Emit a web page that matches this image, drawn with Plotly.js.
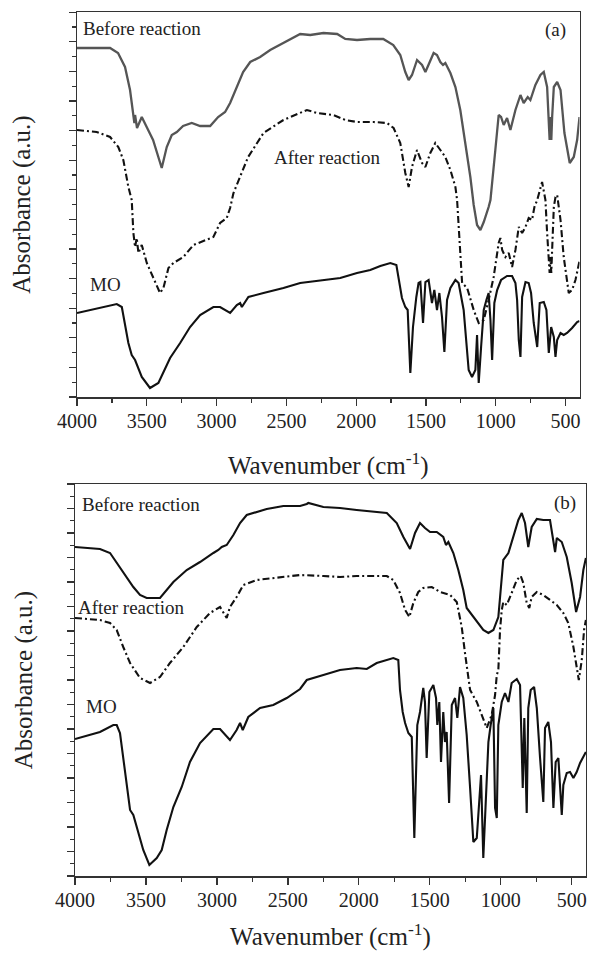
<!DOCTYPE html>
<html><head><meta charset="utf-8">
<script src="https://cdn.plot.ly/plotly-3.0.1.min.js"></script>
<style>html,body{margin:0;padding:0;background:#fff}#chart{width:589px;height:958px}</style>
</head><body><div id="chart"></div>
<script>
// ---------- Panel (a) ----------
const aBeforeWn = [4000,3763,3706,3656,3620,3598,3589,3584,3570,3536,3500,3455,3393,3357,3321,3285,3240,3178,3118,3046,2989,2939,2903,2855,2810,2759,2688,2616,2523,2451,2401,2329,2234,2136,2078,1994,1899,1806,1734,1684,1648,1624,1600,1564,1528,1504,1481,1445,1421,1397,1378,1361,1325,1289,1254,1218,1182,1158,1134,1110,1086,1051,1038,1003,979,962,943,919,895,859,823,800,771,752,716,680,656,632,620,614,608,602,596,584,560,536,508,470,441,417,400];
const aBeforeAbs = [3.49,3.49,3.44,3.30,3.07,2.82,2.74,2.82,2.69,2.80,2.70,2.57,2.29,2.50,2.62,2.65,2.71,2.74,2.71,2.71,2.80,2.85,2.94,3.10,3.25,3.35,3.40,3.47,3.54,3.60,3.63,3.62,3.64,3.63,3.58,3.57,3.58,3.58,3.52,3.42,3.25,3.17,3.22,3.37,3.32,3.25,3.32,3.44,3.42,3.35,3.32,3.34,3.24,3.10,2.87,2.54,2.20,1.92,1.72,1.67,1.75,1.90,1.97,2.47,2.82,2.80,2.72,2.79,2.67,2.87,3.02,2.94,3.00,2.97,3.12,3.22,3.25,3.10,2.80,2.57,2.80,2.57,2.80,3.10,3.15,3.07,2.64,2.34,2.40,2.57,2.80];

const aAfterWn = [4000,3859,3763,3704,3668,3632,3608,3596,3584,3572,3560,3536,3500,3453,3405,3381,3345,3309,3238,3166,3070,3023,2975,2927,2903,2879,2774,2664,2521,2401,2353,2281,2162,2078,1994,1875,1779,1732,1684,1648,1624,1600,1564,1528,1504,1469,1433,1397,1361,1325,1289,1277,1254,1241,1205,1158,1122,1086,1051,1015,979,967,954,931,907,883,859,835,811,787,764,740,723,703,668,644,632,620,614,608,602,596,584,572,560,536,513,477,453,429,400];
const aAfterAbs = [2.67,2.65,2.60,2.50,2.37,2.10,1.97,1.64,1.50,1.59,1.44,1.52,1.34,1.20,1.04,1.09,1.29,1.34,1.40,1.52,1.57,1.60,1.74,1.79,1.89,2.04,2.40,2.64,2.77,2.84,2.87,2.84,2.82,2.77,2.75,2.75,2.74,2.69,2.54,2.24,2.10,2.30,2.47,2.34,2.30,2.44,2.54,2.47,2.40,2.27,2.10,1.97,1.47,1.14,1.09,0.87,0.74,0.77,0.97,1.20,1.54,1.59,1.47,1.40,1.44,1.30,1.47,1.70,1.64,1.70,1.79,1.77,1.90,1.97,2.15,1.97,1.64,1.40,1.24,1.40,1.24,1.47,1.90,2.00,2.02,1.77,1.40,1.04,1.07,1.17,1.36];

const aMOWn = [4000,3835,3715,3679,3656,3632,3608,3584,3536,3477,3417,3381,3333,3261,3190,3118,3023,2975,2903,2855,2831,2819,2772,2664,2521,2401,2234,2114,1994,1899,1827,1755,1712,1696,1672,1648,1631,1612,1593,1569,1553,1540,1521,1504,1481,1457,1440,1421,1404,1385,1368,1349,1325,1289,1266,1230,1194,1170,1146,1134,1122,1105,1086,1067,1051,1038,1026,1010,990,962,919,883,859,847,835,823,811,787,764,747,728,703,685,656,637,620,603,584,572,560,536,513,489,453,417,400];
const aMOAbs = [0.84,0.89,0.93,0.90,0.74,0.54,0.42,0.37,0.20,0.09,0.14,0.24,0.39,0.54,0.70,0.82,0.90,0.90,0.84,0.92,0.94,0.90,1.00,1.04,1.09,1.14,1.17,1.19,1.24,1.27,1.31,1.34,1.32,1.17,0.99,0.90,0.87,0.24,0.70,1.00,1.14,1.15,0.74,1.15,1.17,0.94,1.07,0.87,1.04,0.80,0.45,0.97,1.09,1.17,1.14,0.87,0.27,0.20,0.27,0.62,0.14,0.50,0.87,0.97,1.04,0.77,0.37,0.94,1.07,1.17,1.21,1.21,1.14,0.97,0.57,0.40,1.00,1.15,1.14,1.04,0.74,0.50,0.94,0.95,0.87,0.44,0.70,0.60,0.40,0.57,0.64,0.62,0.64,0.69,0.75,0.76];

// ---------- Panel (b) ----------
const bBeforeWn = [4000,3824,3753,3683,3636,3589,3542,3495,3401,3354,3307,3213,3119,3025,2990,2966,2931,2884,2837,2790,2720,2649,2532,2414,2367,2356,2250,2133,2015,1898,1803,1733,1686,1639,1604,1569,1534,1498,1451,1405,1386,1369,1334,1299,1264,1240,1204,1169,1123,1087,1052,1017,982,946,911,876,852,829,806,782,746,700,653,629,617,605,570,535,500,469,441,418,400];
const bBeforeAbs = [3.29,3.27,3.23,3.09,2.99,2.89,2.81,2.78,2.78,2.86,2.94,3.06,3.14,3.23,3.26,3.29,3.31,3.41,3.53,3.61,3.64,3.67,3.70,3.70,3.72,3.73,3.69,3.68,3.66,3.64,3.63,3.53,3.39,3.27,3.43,3.53,3.48,3.44,3.44,3.39,3.31,3.34,3.23,3.06,2.86,2.68,2.61,2.54,2.46,2.43,2.46,2.59,3.16,3.23,3.39,3.56,3.63,3.53,3.29,3.49,3.57,3.56,3.56,3.36,3.24,3.38,3.34,3.19,2.93,2.64,2.79,3.06,3.18];

const bAfterWn = [4000,3824,3753,3706,3660,3612,3542,3471,3401,3331,3237,3142,3049,2978,2931,2908,2861,2814,2720,2579,2414,2250,2133,2015,1898,1803,1757,1710,1674,1644,1616,1581,1546,1486,1428,1357,1310,1275,1252,1228,1216,1169,1099,1064,1040,1028,1017,1005,993,982,958,923,887,859,841,817,799,782,746,700,653,605,559,524,488,465,450,429,413,400];
const bAfterAbs = [2.58,2.56,2.53,2.46,2.29,2.13,1.98,1.93,1.99,2.13,2.29,2.49,2.63,2.69,2.58,2.69,2.79,2.91,2.96,2.98,3.01,3.00,2.99,3.00,3.00,3.00,2.96,2.83,2.66,2.59,2.73,2.84,2.88,2.89,2.84,2.81,2.74,2.49,2.23,1.99,1.86,1.74,1.48,1.61,1.81,2.01,2.06,2.46,2.66,2.74,2.71,2.83,2.96,3.00,2.93,2.73,2.68,2.79,2.84,2.81,2.76,2.71,2.63,2.53,2.29,2.06,1.96,2.16,2.46,2.56];

const bMOWn = [4000,3824,3730,3706,3683,3660,3636,3612,3589,3565,3519,3476,3424,3389,3354,3307,3248,3190,3119,3025,2978,2908,2861,2837,2818,2779,2696,2603,2508,2414,2367,2250,2133,2015,1944,1874,1803,1757,1722,1710,1691,1674,1651,1627,1609,1588,1569,1546,1534,1522,1503,1475,1456,1447,1433,1421,1405,1393,1381,1364,1345,1322,1306,1287,1264,1240,1216,1193,1169,1153,1139,1123,1104,1087,1071,1052,1040,1028,1017,993,970,946,923,887,864,845,834,817,806,789,765,746,723,700,688,665,646,629,613,594,570,559,535,512,488,465,441,400];
const bMOAbs = [1.37,1.44,1.51,1.51,1.43,1.19,0.89,0.66,0.61,0.49,0.26,0.11,0.18,0.26,0.46,0.69,0.89,1.14,1.33,1.47,1.47,1.36,1.46,1.53,1.46,1.59,1.68,1.71,1.78,1.87,1.96,2.01,2.06,2.08,2.07,2.13,2.16,2.18,2.16,1.86,1.64,1.53,1.43,1.39,0.38,1.51,1.64,1.88,1.74,1.18,1.84,1.91,1.78,1.51,1.74,1.14,1.64,1.34,1.44,0.73,1.71,1.78,1.58,1.89,1.78,1.41,0.88,0.34,0.38,0.74,1.01,0.18,0.84,1.34,1.51,1.68,0.68,0.58,1.51,1.74,1.83,1.74,1.93,1.97,1.91,0.88,1.58,0.63,1.68,1.86,1.89,1.68,1.18,0.74,1.48,1.54,1.34,0.68,1.14,1.18,0.61,0.91,1.03,1.04,0.98,1.04,1.13,1.24];

const xTickVals = [4000,3500,3000,2500,2000,1500,1000,500];
const xMinorVals = [3750,3250,2750,2250,1750,1250,750];
const seriesLabels = ['Before reaction','After reaction','MO'];

const W = 589, H = 958;
const FONT = '"Liberation Serif", "Times New Roman", serif';
const solidBlack = {color:'#111', width:2.1};
const greyLine = {color:'#555', width:2.3};
const dashDot = {color:'#111', width:2.1, dash:'7px,3px,2px,3px'};

const traces = [
  {x:aBeforeWn, y:aBeforeAbs, xaxis:'x', yaxis:'y', mode:'lines', line:greyLine, name:seriesLabels[0]},
  {x:aAfterWn, y:aAfterAbs, xaxis:'x', yaxis:'y', mode:'lines', line:dashDot, name:seriesLabels[1]},
  {x:aMOWn, y:aMOAbs, xaxis:'x', yaxis:'y', mode:'lines', line:solidBlack, name:seriesLabels[2]},
  {x:bBeforeWn, y:bBeforeAbs, xaxis:'x2', yaxis:'y2', mode:'lines', line:solidBlack, name:seriesLabels[0]},
  {x:bAfterWn, y:bAfterAbs, xaxis:'x2', yaxis:'y2', mode:'lines', line:dashDot, name:seriesLabels[1]},
  {x:bMOWn, y:bMOAbs, xaxis:'x2', yaxis:'y2', mode:'lines', line:solidBlack, name:seriesLabels[2]}
];

function xAxis(domain, anchor, standoff){
  return {
    domain: domain, anchor: anchor, range:[4000,400], autorange:false,
    showline:true, mirror:true, linecolor:'#333', linewidth:1.5,
    ticks:'outside', ticklen:7, tickwidth:1.3, tickcolor:'#333',
    tickvals:xTickVals, ticktext:xTickVals.map(String), ticklabelstandoff:-2,
    minor:{tickvals:xMinorVals, ticks:'outside', ticklen:4, tickwidth:1.2, tickcolor:'#333'},
    showgrid:false, zeroline:false,
    tickfont:{family:FONT, size:20, color:'#222'},
    title:{text:'Wavenumber (cm<sup>-1</sup>)', font:{family:FONT, size:25, color:'#222'}, standoff:standoff}
  };
}
function yAxis(domain, anchor, top, dt, standoff){
  return {
    domain: domain, anchor: anchor, range:[0, top], autorange:false,
    showline:true, mirror:true, linecolor:'#333', linewidth:1.5,
    ticks:'outside', ticklen:7, tickwidth:1.3, tickcolor:'#333',
    tick0:0, dtick:dt, showticklabels:false,
    minor:{dtick:dt/2, ticks:'outside', ticklen:4, tickwidth:1.2, tickcolor:'#333'},
    showgrid:false, zeroline:false,
    title:{text:'Absorbance (a.u.)', font:{family:FONT, size:25, color:'#222'}, standoff:standoff}
  };
}

const px = v => v / W;
const py = v => 1 - v / H;

const ann = (text, x, y, xanchor) => ({text:text, xref:'paper', yref:'paper', x:px(x), y:py(y), xanchor:xanchor||'left', yanchor:'middle', showarrow:false, font:{family:FONT, size:19, color:'#222'}});

const layout = {
  width:W, height:H, margin:{l:0, r:0, t:0, b:0},
  font:{family:FONT, color:'#222'},
  paper_bgcolor:'#fff', plot_bgcolor:'#fff', showlegend:false,
  xaxis: xAxis([px(77), px(579.5)], 'y', 26),
  yaxis: yAxis([py(397), py(12)], 'x', 3.85, 0.296, 31),
  xaxis2: xAxis([px(75), px(585.9)], 'y2', 18),
  yaxis2: yAxis([py(876), py(484)], 'x2', 3.92, 0.245, 27),
  annotations: [
    ann('Before reaction', 81, 29),
    ann('(a)', 568, 30, 'right'),
    ann(seriesLabels[1], 272, 157),
    ann(seriesLabels[2], 88, 284),
    ann('Before reaction', 80, 504),
    ann('(b)', 578, 503, 'right'),
    ann(seriesLabels[1], 76, 607),
    ann(seriesLabels[2], 84, 706)
  ]
};

Plotly.newPlot('chart', traces, layout, {displayModeBar:false, staticPlot:true});
</script>
</body></html>
